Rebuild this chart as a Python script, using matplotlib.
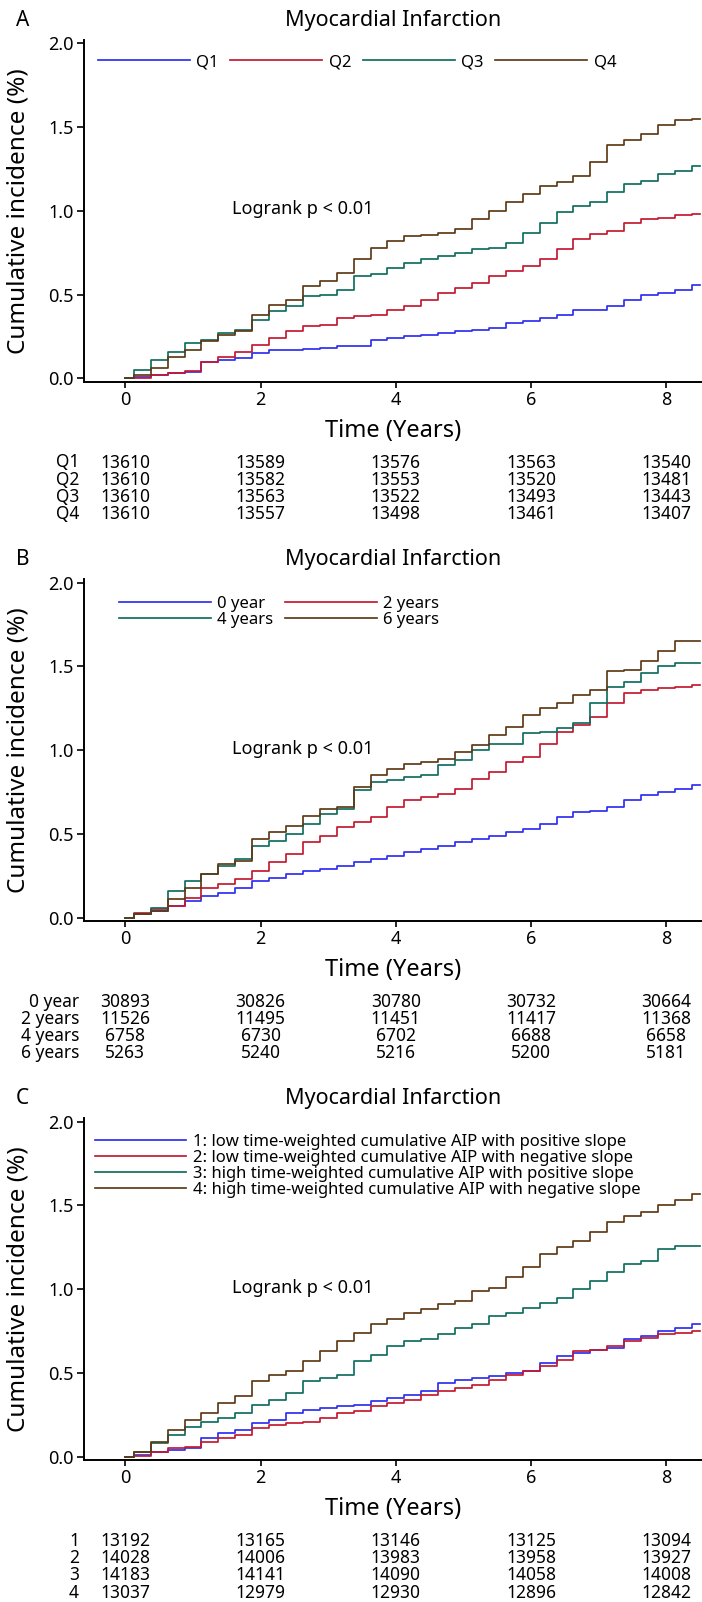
import matplotlib
matplotlib.use('Agg')
import matplotlib.pyplot as plt
from matplotlib.ticker import FormatStrFormatter
from matplotlib.transforms import blended_transform_factory

plt.rcParams['font.family'] = ['Noto Sans', 'DejaVu Sans']

W, H = 702, 1602

times = [0.0, 0.25, 0.5, 0.75, 1.0, 1.25, 1.5, 1.75, 2.0, 2.25, 2.5, 2.75,
         3.0, 3.25, 3.5, 3.75, 4.0, 4.25, 4.5, 4.75, 5.0, 5.25, 5.5, 5.75,
         6.0, 6.25, 6.5, 6.75, 7.0, 7.25, 7.5, 7.75, 8.0, 8.25, 8.5]

# Panel A: quartiles
a_labels = ['Q1', 'Q2', 'Q3', 'Q4']
a_q1 = [0, 0.01, 0.02, 0.03, 0.04, 0.10, 0.11, 0.12, 0.15, 0.17, 0.17, 0.175,
        0.18, 0.19, 0.19, 0.23, 0.24, 0.255, 0.26, 0.27, 0.28, 0.29, 0.30, 0.33,
        0.34, 0.36, 0.38, 0.41, 0.41, 0.43, 0.47, 0.50, 0.51, 0.53, 0.56]
a_q2 = [0, 0.0, 0.02, 0.03, 0.045, 0.10, 0.13, 0.16, 0.20, 0.24, 0.28, 0.31,
        0.32, 0.36, 0.37, 0.38, 0.41, 0.43, 0.47, 0.51, 0.54, 0.57, 0.61, 0.64,
        0.67, 0.71, 0.77, 0.83, 0.86, 0.88, 0.93, 0.95, 0.96, 0.975, 0.98]
a_q3 = [0, 0.05, 0.11, 0.16, 0.21, 0.23, 0.27, 0.29, 0.35, 0.40, 0.43, 0.49,
        0.50, 0.53, 0.61, 0.62, 0.66, 0.69, 0.71, 0.73, 0.75, 0.77, 0.78, 0.81,
        0.87, 0.93, 0.99, 1.03, 1.05, 1.11, 1.16, 1.18, 1.22, 1.24, 1.27]
a_q4 = [0, 0.02, 0.06, 0.13, 0.17, 0.22, 0.26, 0.28, 0.38, 0.44, 0.47, 0.55,
        0.58, 0.63, 0.71, 0.78, 0.82, 0.85, 0.855, 0.87, 0.89, 0.95, 1.00, 1.05,
        1.10, 1.15, 1.17, 1.21, 1.29, 1.39, 1.42, 1.46, 1.51, 1.54, 1.55]
a_risk = [[13610, 13589, 13576, 13563, 13540],
          [13610, 13582, 13553, 13520, 13481],
          [13610, 13563, 13522, 13493, 13443],
          [13610, 13557, 13498, 13461, 13407]]

# Panel B: duration
b_labels = ['0 year', '2 years', '4 years', '6 years']
b_y0 = [0, 0.02, 0.04, 0.07, 0.10, 0.13, 0.15, 0.18, 0.22, 0.24, 0.26, 0.28,
        0.29, 0.31, 0.33, 0.35, 0.37, 0.39, 0.41, 0.43, 0.45, 0.47, 0.49, 0.51,
        0.53, 0.56, 0.60, 0.63, 0.64, 0.66, 0.70, 0.73, 0.75, 0.77, 0.79]
b_y2 = [0, 0.03, 0.05, 0.07, 0.12, 0.18, 0.20, 0.23, 0.28, 0.33, 0.38, 0.45,
        0.49, 0.54, 0.57, 0.60, 0.66, 0.70, 0.72, 0.74, 0.77, 0.83, 0.87, 0.93,
        0.96, 1.04, 1.11, 1.15, 1.20, 1.28, 1.34, 1.36, 1.37, 1.38, 1.39]
b_y4 = [0, 0.02, 0.06, 0.16, 0.22, 0.26, 0.31, 0.35, 0.43, 0.46, 0.50, 0.56,
        0.62, 0.65, 0.76, 0.81, 0.82, 0.84, 0.85, 0.91, 0.94, 1.00, 1.04, 1.04,
        1.10, 1.11, 1.13, 1.16, 1.28, 1.38, 1.41, 1.46, 1.50, 1.52, 1.52]
b_y6 = [0, 0.02, 0.04, 0.11, 0.18, 0.26, 0.32, 0.34, 0.47, 0.51, 0.55, 0.61,
        0.65, 0.66, 0.78, 0.85, 0.89, 0.92, 0.93, 0.95, 0.99, 1.03, 1.09, 1.14,
        1.21, 1.25, 1.28, 1.33, 1.36, 1.47, 1.48, 1.53, 1.59, 1.65, 1.65]
b_risk = [[30893, 30826, 30780, 30732, 30664],
          [11526, 11495, 11451, 11417, 11368],
          [6758, 6730, 6702, 6688, 6658],
          [5263, 5240, 5216, 5200, 5181]]

# Panel C: trajectory groups
c_labels = ['1: low time-weighted cumulative AIP with positive slope',
            '2: low time-weighted cumulative AIP with negative slope',
            '3: high time-weighted cumulative AIP with positive slope',
            '4: high time-weighted cumulative AIP with negative slope']
c_g1 = [0, 0.01, 0.03, 0.04, 0.05, 0.11, 0.14, 0.16, 0.20, 0.22, 0.26, 0.28,
        0.29, 0.30, 0.31, 0.33, 0.35, 0.37, 0.39, 0.44, 0.46, 0.47, 0.48, 0.50,
        0.51, 0.56, 0.60, 0.62, 0.64, 0.65, 0.70, 0.72, 0.75, 0.77, 0.79]
c_g2 = [0, 0.005, 0.03, 0.05, 0.06, 0.09, 0.11, 0.13, 0.17, 0.19, 0.20, 0.21,
        0.23, 0.26, 0.27, 0.30, 0.32, 0.34, 0.37, 0.39, 0.41, 0.43, 0.46, 0.49,
        0.51, 0.54, 0.58, 0.63, 0.64, 0.66, 0.69, 0.71, 0.73, 0.74, 0.75]
c_g3 = [0, 0.03, 0.08, 0.13, 0.18, 0.21, 0.23, 0.26, 0.31, 0.34, 0.38, 0.45,
        0.47, 0.49, 0.57, 0.61, 0.66, 0.69, 0.70, 0.73, 0.77, 0.79, 0.84, 0.86,
        0.89, 0.92, 0.95, 1.00, 1.05, 1.10, 1.15, 1.17, 1.24, 1.26, 1.26]
c_g4 = [0, 0.03, 0.09, 0.16, 0.22, 0.26, 0.32, 0.36, 0.45, 0.49, 0.51, 0.57,
        0.63, 0.69, 0.74, 0.79, 0.82, 0.86, 0.88, 0.91, 0.93, 0.99, 1.01, 1.07,
        1.13, 1.21, 1.25, 1.29, 1.34, 1.40, 1.44, 1.46, 1.50, 1.53, 1.57]
c_risk = [[13192, 13165, 13146, 13125, 13094],
          [14028, 14006, 13983, 13958, 13927],
          [14183, 14141, 14090, 14058, 14008],
          [13037, 12979, 12930, 12896, 12842]]
c_row_labels = ['1', '2', '3', '4']

risk_times = [0, 2, 4, 6, 8]
colors = ['#2f2ff2', '#c41a30', '#0f6e5e', '#5e3a16']

panels = [
    dict(letter='A', curves=[a_q1, a_q2, a_q3, a_q4], labels=a_labels,
         risk=a_risk, rows=a_labels, y0=378.3, ncol=4, order=[0, 1, 2, 3],
         leg=(0.022, 0.935)),
    dict(letter='B', curves=[b_y0, b_y2, b_y4, b_y6], labels=b_labels,
         risk=b_risk, rows=b_labels, y0=917.7, ncol=2, order=[0, 2, 1, 3],
         leg=(0.056, 0.905)),
    dict(letter='C', curves=[c_g1, c_g2, c_g3, c_g4], labels=c_labels,
         risk=c_risk, rows=c_row_labels, y0=1456.7, ncol=1, order=[0, 1, 2, 3],
         leg=(0.017, 0.862)),
]

fig = plt.figure(figsize=(W / 100, H / 100), dpi=100)


def fy(px):
    return 1 - px / H


scale = 167.5  # pixels per 1 % on the y axis
left_px = 84.3

for p in panels:
    y0 = p['y0']
    top = y0 - 2.02 * scale
    bottom = y0 + 0.02 * scale
    ax = fig.add_axes([left_px / W, fy(bottom), (W - left_px) / W, (bottom - top) / H])

    lines = []
    for vals, col, lab in zip(p['curves'], colors, p['labels']):
        ln, = ax.plot(times, vals, drawstyle='steps-mid', color=col, lw=1.25, label=lab)
        lines.append(ln)

    ax.set_xlim(-0.607, 8.526)
    ax.set_ylim(-0.02, 2.02)
    ax.set_xticks([0, 2, 4, 6, 8])
    ax.set_yticks([0, 0.5, 1.0, 1.5, 2.0])
    ax.yaxis.set_major_formatter(FormatStrFormatter('%.1f'))
    for s in ['top', 'right']:
        ax.spines[s].set_visible(False)
    for s in ['left', 'bottom']:
        ax.spines[s].set_linewidth(1.4)
    ax.tick_params(axis='x', length=4.5, width=1.2, labelsize=13, pad=2)
    ax.tick_params(axis='y', length=5, width=1.2, labelsize=13, pad=2.5)

    ax.text(1.577, 1.01, 'Logrank p < 0.01', ha='left', va='center', fontsize=13)

    hs = [lines[k] for k in p['order']]
    ls = [p['labels'][k] for k in p['order']]
    ax.legend(hs, ls, loc='center left', bbox_to_anchor=p['leg'], ncol=p['ncol'],
              frameon=False, fontsize=12, handlelength=5.5, handletextpad=0.4,
              columnspacing=0.7, labelspacing=0.0, borderpad=0, borderaxespad=0)

    fig.text(16 / W, fy(y0 - 352.3), p['letter'], ha='left', va='baseline', fontsize=15)
    fig.text(393 / W, fy(y0 - 352.3), 'Myocardial Infarction', ha='center',
             va='baseline', fontsize=15.5)
    fig.text(393 / W, fy(y0 + 58.4), 'Time (Years)', ha='center', va='baseline',
             fontsize=17)
    fig.text(19 / W, fy((top + bottom) / 2), 'Cumulative incidence (%)', rotation=90,
             ha='center', va='center', fontsize=17.5)

    trans = blended_transform_factory(ax.transData, fig.transFigure)
    for r, (row_lab, nums) in enumerate(zip(p['rows'], p['risk'])):
        yy = fy(y0 + 89.2 + 17.2 * r)
        fig.text(79 / W, yy, row_lab, ha='right', va='baseline', fontsize=12.5)
        for t, n in zip(risk_times, nums):
            ax.text(t, yy, str(n), transform=trans, ha='center', va='baseline',
                    fontsize=12.5, clip_on=False)

fig.savefig('out.png', dpi=100)
